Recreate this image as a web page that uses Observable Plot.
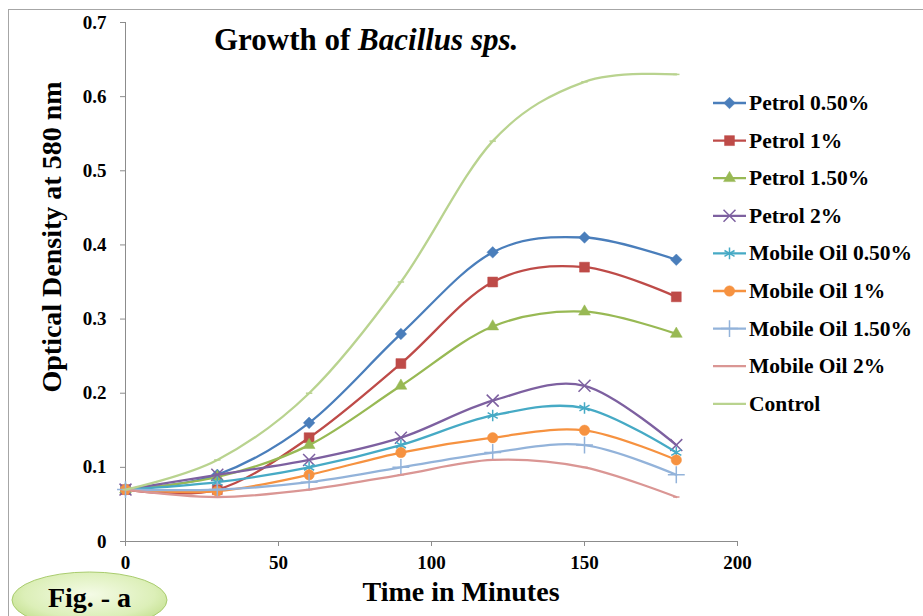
<!DOCTYPE html>
<html><head><meta charset="utf-8">
<script src="https://cdn.jsdelivr.net/npm/d3@7"></script>
<script src="https://cdn.jsdelivr.net/npm/@observablehq/plot@0.6"></script>
<style>
html,body{margin:0;padding:0;background:#fff;}
#wrap{position:relative;width:923px;height:616px;overflow:hidden;}
#wrap svg{position:absolute;left:0;top:0;}
</style></head><body><div id="wrap"></div>
<script>
// ---- data ----
const times = [0, 30, 60, 90, 120, 150, 180];
const seriesNames = ["Petrol 0.50%", "Petrol 1%", "Petrol 1.50%", "Petrol 2%",
  "Mobile Oil 0.50%", "Mobile Oil 1%", "Mobile Oil 1.50%", "Mobile Oil 2%", "Control"];
const petrol050 = [0.07, 0.09, 0.16, 0.28, 0.39, 0.41, 0.38];
const petrol1   = [0.07, 0.07, 0.14, 0.24, 0.35, 0.37, 0.33];
const petrol150 = [0.07, 0.087, 0.13, 0.21, 0.29, 0.31, 0.28];
const petrol2   = [0.07, 0.09, 0.11, 0.14, 0.19, 0.21, 0.13];
const mobile050 = [0.07, 0.08, 0.10, 0.13, 0.17, 0.18, 0.12];
const mobile1   = [0.07, 0.068, 0.09, 0.12, 0.14, 0.15, 0.11];
const mobile150 = [0.07, 0.07, 0.08, 0.10, 0.12, 0.13, 0.09];
const mobile2   = [0.07, 0.06, 0.07, 0.09, 0.11, 0.10, 0.06];
const control   = [0.07, 0.11, 0.20, 0.35, 0.54, 0.62, 0.63];
const seriesValues = [petrol050, petrol1, petrol150, petrol2, mobile050, mobile1, mobile150, mobile2, control];
const xTicks = [0, 50, 100, 150, 200];
const yTicks = [0, 0.1, 0.2, 0.3, 0.4, 0.5, 0.6, 0.7];
const yTickLabels = ["0", "0.1", "0.2", "0.3", "0.4", "0.5", "0.6", "0.7"];

// ---- styles ----
const symbolDash = {draw(ctx, size) {const r = Math.sqrt(size / Math.PI); ctx.moveTo(-r, 0); ctx.lineTo(r, 0);}};
const styles = [
  {color: "#4A7EBB", symbol: "diamond2", d3s: d3.symbolDiamond2, r: 5.2, filled: true},
  {color: "#BE4B48", symbol: "square", d3s: d3.symbolSquare, r: 5.6, filled: true},
  {color: "#98B954", symbol: "triangle", d3s: d3.symbolTriangle, r: 4.4, filled: true},
  {color: "#7D60A0", symbol: "times", d3s: d3.symbolTimes, r: 5.5, filled: false},
  {color: "#46AAC5", symbol: "asterisk", d3s: d3.symbolAsterisk, r: 5.5, filled: false},
  {color: "#F69240", symbol: "circle", d3s: d3.symbolCircle, r: 5.2, filled: true},
  {color: "#93B3DA", symbol: "plus", d3s: d3.symbolPlus, r: 5.5, filled: false},
  {color: "#DA9694", symbol: symbolDash, d3s: symbolDash, r: 3.2, filled: false},
  {color: "#B9D38F", symbol: symbolDash, d3s: symbolDash, r: 3.2, filled: false}
];

const rows = seriesNames.flatMap((name, i) => times.map((t, j) => ({series: name, time: t, od: seriesValues[i][j]})));

const marks = [
  Plot.ruleX([0], {stroke: "#8c8c8c", strokeWidth: 1}),
  Plot.ruleY([0], {stroke: "#8c8c8c", strokeWidth: 1}),
  Plot.axisX({ticks: xTicks, tickSize: 5, tickPadding: 9, stroke: "#8c8c8c", label: null, tickFormat: d => String(d)}),
  Plot.axisY({ticks: yTicks, tickSize: 5, tickPadding: 14, stroke: "#8c8c8c", label: null,
    tickFormat: d => yTickLabels[yTicks.indexOf(d)]})
];
seriesNames.forEach((name, i) => {
  const s = styles[i];
  const data = rows.filter(d => d.series === name);
  marks.push(Plot.line(data, {x: "time", y: "od", stroke: s.color, strokeWidth: 2.3, curve: "cardinal"}));
  marks.push(Plot.dot(data, {x: "time", y: "od", symbol: () => s.symbol, r: s.r,
    fill: s.filled ? s.color : "none", stroke: s.color, strokeWidth: s.filled ? 0.5 : 1.5}));
});

const chart = Plot.plot({
  width: 923, height: 616,
  marginLeft: 125, marginRight: 186, marginTop: 22, marginBottom: 75,
  x: {domain: [0, 200]},
  y: {domain: [0, 0.7]},
  style: {fontFamily: "'Liberation Serif', 'Times New Roman', serif", fontSize: "19px", fontWeight: "bold", color: "#000", background: "transparent"},
  marks
});
const wrap = document.getElementById("wrap");
wrap.appendChild(chart);

// ---- overlay: frame, titles, legend, figure tag ----
const ov = d3.select(wrap).append("svg").attr("width", 923).attr("height", 616)
  .style("font-family", "'Liberation Serif', 'Times New Roman', serif").style("font-weight", "bold");
ov.append("line").attr("x1", 8).attr("x2", 923).attr("y1", 9.5).attr("y2", 9.5).attr("stroke", "#a6a6a6");
ov.append("line").attr("x1", 8.5).attr("x2", 8.5).attr("y1", 9.5).attr("y2", 616).attr("stroke", "#a6a6a6");

const title = ov.append("text").attr("x", 214).attr("y", 50).attr("font-size", 31);
title.append("tspan").text("Growth of ");
title.append("tspan").attr("font-style", "italic").text("Bacillus sps.");

ov.append("text").attr("transform", "translate(61,237) rotate(-90)").attr("text-anchor", "middle")
  .attr("font-size", 28).text("Optical Density at 580 nm");
ov.append("text").attr("x", 461).attr("y", 601).attr("text-anchor", "middle")
  .attr("font-size", 28).text("Time in Minutes");

const grad = ov.append("defs").append("radialGradient").attr("id", "figg").attr("cx", "50%").attr("cy", "40%").attr("r", "60%");
grad.append("stop").attr("offset", "0%").attr("stop-color", "#f4fbe6");
grad.append("stop").attr("offset", "70%").attr("stop-color", "#dcefb8");
grad.append("stop").attr("offset", "100%").attr("stop-color", "#c4e08f");
ov.append("ellipse").attr("cx", 89.5).attr("cy", 600).attr("rx", 77.5).attr("ry", 28)
  .attr("fill", "url(#figg)").attr("stroke", "#a9cc6e").attr("stroke-width", 1);
ov.append("text").attr("x", 89.5).attr("y", 607).attr("text-anchor", "middle").attr("font-size", 28).text("Fig. - a");

const legendY0 = 103, legendStep = 37.6;
seriesNames.forEach((name, i) => {
  const s = styles[i];
  const y = legendY0 + i * legendStep;
  const g = ov.append("g");
  g.append("line").attr("x1", 713).attr("x2", 746).attr("y1", y).attr("y2", y).attr("stroke", s.color).attr("stroke-width", 2.3);
  g.append("path").attr("transform", `translate(729.5,${y})`)
    .attr("d", d3.symbol(s.d3s, Math.PI * s.r * s.r)())
    .attr("fill", s.filled ? s.color : "none").attr("stroke", s.color).attr("stroke-width", s.filled ? 0.5 : 1.5);
  g.append("text").attr("x", 749).attr("y", y + 7).attr("font-size", 21.5).text(name);
});
</script></body></html>
